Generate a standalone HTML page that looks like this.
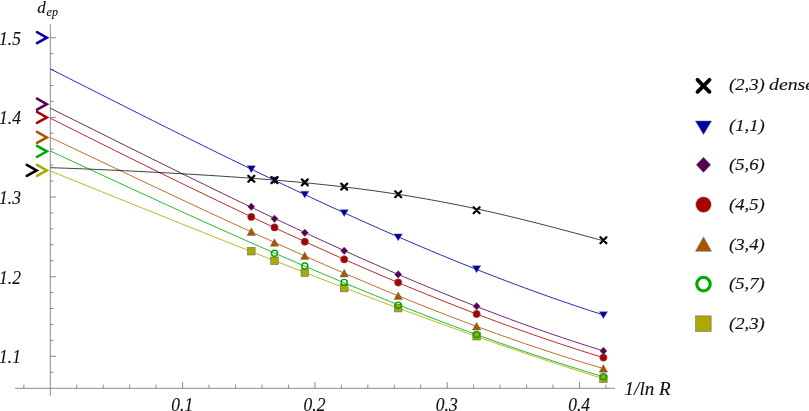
<!DOCTYPE html>
<html><head><meta charset="utf-8"><title>chart</title>
<style>html,body{margin:0;padding:0;background:#fff;}body{width:809px;height:411px;overflow:hidden;position:relative;font-family:"Liberation Serif",serif;}</style>
</head><body>
<svg width="809" height="411" viewBox="0 0 809 411" style="position:absolute;left:0;top:0">
<rect width="809" height="411" fill="#fff"/>
<g stroke="#8c8c8c" stroke-width="1" fill="none" shape-rendering="auto">
<line x1="15.1" y1="388.3" x2="615" y2="388.3"/>
<line x1="50.3" y1="24.3" x2="50.3" y2="395.6"/>
</g>
<g stroke="#6e6e6e" stroke-width="0.8" fill="none">
<line x1="23.84" y1="388.3" x2="23.84" y2="384.60"/>
<line x1="76.76" y1="388.3" x2="76.76" y2="384.60"/>
<line x1="103.22" y1="388.3" x2="103.22" y2="384.60"/>
<line x1="129.68" y1="388.3" x2="129.68" y2="384.60"/>
<line x1="156.14" y1="388.3" x2="156.14" y2="384.60"/>
<line x1="182.60" y1="388.3" x2="182.60" y2="382.10"/>
<line x1="209.06" y1="388.3" x2="209.06" y2="384.60"/>
<line x1="235.52" y1="388.3" x2="235.52" y2="384.60"/>
<line x1="261.98" y1="388.3" x2="261.98" y2="384.60"/>
<line x1="288.44" y1="388.3" x2="288.44" y2="384.60"/>
<line x1="314.90" y1="388.3" x2="314.90" y2="382.10"/>
<line x1="341.36" y1="388.3" x2="341.36" y2="384.60"/>
<line x1="367.82" y1="388.3" x2="367.82" y2="384.60"/>
<line x1="394.28" y1="388.3" x2="394.28" y2="384.60"/>
<line x1="420.74" y1="388.3" x2="420.74" y2="384.60"/>
<line x1="447.20" y1="388.3" x2="447.20" y2="382.10"/>
<line x1="473.66" y1="388.3" x2="473.66" y2="384.60"/>
<line x1="500.12" y1="388.3" x2="500.12" y2="384.60"/>
<line x1="526.58" y1="388.3" x2="526.58" y2="384.60"/>
<line x1="553.04" y1="388.3" x2="553.04" y2="384.60"/>
<line x1="579.50" y1="388.3" x2="579.50" y2="382.10"/>
<line x1="605.96" y1="388.3" x2="605.96" y2="384.60"/>
<line x1="50.3" y1="372.23" x2="53.60" y2="372.23"/>
<line x1="50.3" y1="356.30" x2="55.90" y2="356.30"/>
<line x1="50.3" y1="340.37" x2="53.60" y2="340.37"/>
<line x1="50.3" y1="324.44" x2="53.60" y2="324.44"/>
<line x1="50.3" y1="308.51" x2="53.60" y2="308.51"/>
<line x1="50.3" y1="292.58" x2="53.60" y2="292.58"/>
<line x1="50.3" y1="276.65" x2="55.90" y2="276.65"/>
<line x1="50.3" y1="260.72" x2="53.60" y2="260.72"/>
<line x1="50.3" y1="244.79" x2="53.60" y2="244.79"/>
<line x1="50.3" y1="228.86" x2="53.60" y2="228.86"/>
<line x1="50.3" y1="212.93" x2="53.60" y2="212.93"/>
<line x1="50.3" y1="197.00" x2="55.90" y2="197.00"/>
<line x1="50.3" y1="181.07" x2="53.60" y2="181.07"/>
<line x1="50.3" y1="165.14" x2="53.60" y2="165.14"/>
<line x1="50.3" y1="149.21" x2="53.60" y2="149.21"/>
<line x1="50.3" y1="133.28" x2="53.60" y2="133.28"/>
<line x1="50.3" y1="117.35" x2="55.90" y2="117.35"/>
<line x1="50.3" y1="101.42" x2="53.60" y2="101.42"/>
<line x1="50.3" y1="85.49" x2="53.60" y2="85.49"/>
<line x1="50.3" y1="69.56" x2="53.60" y2="69.56"/>
<line x1="50.3" y1="53.63" x2="53.60" y2="53.63"/>
<line x1="50.3" y1="37.70" x2="55.90" y2="37.70"/>
</g>
<path d="M50.30,171.00L54.95,172.87L59.60,174.74L64.24,176.61L68.89,178.48L73.54,180.35L78.19,182.22L82.84,184.10L87.48,185.97L92.13,187.84L96.78,189.72L101.43,191.59L106.07,193.46L110.72,195.34L115.37,197.21L120.02,199.08L124.67,200.96L129.31,202.83L133.96,204.70L138.61,206.57L143.26,208.44L147.91,210.31L152.55,212.18L157.20,214.05L161.85,215.92L166.50,217.78L171.15,219.65L175.79,221.51L180.44,223.38L185.09,225.24L189.74,227.10L194.38,228.96L199.03,230.82L203.68,232.67L208.33,234.53L212.98,236.38L217.62,238.23L222.27,240.08L226.92,241.93L231.57,243.78L236.22,245.62L240.86,247.46L245.51,249.30L250.16,251.14L254.81,252.98L259.46,254.81L264.10,256.64L268.75,258.47L273.40,260.29L278.05,262.11L282.69,263.93L287.34,265.75L291.99,267.56L296.64,269.37L301.29,271.18L305.93,272.99L310.58,274.79L315.23,276.59L319.88,278.38L324.53,280.17L329.17,281.96L333.82,283.75L338.47,285.53L343.12,287.30L347.77,289.08L352.41,290.85L357.06,292.61L361.71,294.38L366.36,296.13L371.01,297.89L375.65,299.64L380.30,301.38L384.95,303.12L389.60,304.86L394.24,306.59L398.89,308.32L403.54,310.04L408.19,311.76L412.84,313.47L417.48,315.18L422.13,316.88L426.78,318.58L431.43,320.28L436.08,321.97L440.72,323.65L445.37,325.33L450.02,327.00L454.67,328.67L459.32,330.33L463.96,331.99L468.61,333.64L473.26,335.28L477.91,336.92L482.55,338.55L487.20,340.18L491.85,341.80L496.50,343.42L501.15,345.03L505.79,346.63L510.44,348.23L515.09,349.82L519.74,351.40L524.39,352.98L529.03,354.55L533.68,356.11L538.33,357.67L542.98,359.22L547.63,360.77L552.27,362.30L556.92,363.83L561.57,365.36L566.22,366.87L570.86,368.38L575.51,369.88L580.16,371.38L584.81,372.86L589.46,374.34L594.10,375.81L598.75,377.28L603.40,378.73" fill="none" stroke="#aaaa00" stroke-width="0.85"/>
<path d="M50.30,151.00L54.95,153.16L59.60,155.32L64.24,157.48L68.89,159.65L73.54,161.81L78.19,163.97L82.84,166.12L87.48,168.28L92.13,170.44L96.78,172.59L101.43,174.75L106.07,176.90L110.72,179.05L115.37,181.20L120.02,183.35L124.67,185.49L129.31,187.64L133.96,189.78L138.61,191.92L143.26,194.06L147.91,196.19L152.55,198.33L157.20,200.46L161.85,202.59L166.50,204.71L171.15,206.83L175.79,208.95L180.44,211.07L185.09,213.18L189.74,215.29L194.38,217.40L199.03,219.50L203.68,221.60L208.33,223.69L212.98,225.78L217.62,227.87L222.27,229.95L226.92,232.03L231.57,234.11L236.22,236.18L240.86,238.25L245.51,240.31L250.16,242.36L254.81,244.42L259.46,246.46L264.10,248.50L268.75,250.54L273.40,252.57L278.05,254.60L282.69,256.62L287.34,258.63L291.99,260.64L296.64,262.65L301.29,264.64L305.93,266.64L310.58,268.62L315.23,270.60L319.88,272.57L324.53,274.54L329.17,276.50L333.82,278.45L338.47,280.40L343.12,282.34L347.77,284.27L352.41,286.20L357.06,288.12L361.71,290.03L366.36,291.93L371.01,293.83L375.65,295.72L380.30,297.60L384.95,299.47L389.60,301.34L394.24,303.19L398.89,305.04L403.54,306.88L408.19,308.72L412.84,310.54L417.48,312.36L422.13,314.16L426.78,315.96L431.43,317.75L436.08,319.53L440.72,321.30L445.37,323.06L450.02,324.81L454.67,326.56L459.32,328.29L463.96,330.01L468.61,331.73L473.26,333.43L477.91,335.12L482.55,336.81L487.20,338.48L491.85,340.14L496.50,341.80L501.15,343.44L505.79,345.07L510.44,346.69L515.09,348.30L519.74,349.90L524.39,351.49L529.03,353.06L533.68,354.63L538.33,356.18L542.98,357.73L547.63,359.26L552.27,360.78L556.92,362.28L561.57,363.78L566.22,365.26L570.86,366.74L575.51,368.19L580.16,369.64L584.81,371.08L589.46,372.50L594.10,373.91L598.75,375.30L603.40,376.69" fill="none" stroke="#00aa00" stroke-width="0.85"/>
<path d="M50.30,137.40L54.95,139.60L59.60,141.80L64.24,144.01L68.89,146.21L73.54,148.42L78.19,150.62L82.84,152.83L87.48,155.04L92.13,157.25L96.78,159.45L101.43,161.66L106.07,163.87L110.72,166.07L115.37,168.28L120.02,170.48L124.67,172.69L129.31,174.89L133.96,177.09L138.61,179.29L143.26,181.49L147.91,183.69L152.55,185.89L157.20,188.08L161.85,190.27L166.50,192.46L171.15,194.65L175.79,196.83L180.44,199.02L185.09,201.20L189.74,203.38L194.38,205.55L199.03,207.72L203.68,209.89L208.33,212.05L212.98,214.21L217.62,216.37L222.27,218.52L226.92,220.67L231.57,222.82L236.22,224.96L240.86,227.10L245.51,229.23L250.16,231.36L254.81,233.48L259.46,235.60L264.10,237.71L268.75,239.81L273.40,241.92L278.05,244.01L282.69,246.10L287.34,248.19L291.99,250.27L296.64,252.34L301.29,254.41L305.93,256.46L310.58,258.52L315.23,260.56L319.88,262.60L324.53,264.64L329.17,266.66L333.82,268.68L338.47,270.69L343.12,272.70L347.77,274.69L352.41,276.68L357.06,278.66L361.71,280.63L366.36,282.60L371.01,284.55L375.65,286.50L380.30,288.44L384.95,290.37L389.60,292.29L394.24,294.20L398.89,296.10L403.54,297.99L408.19,299.88L412.84,301.75L417.48,303.61L422.13,305.47L426.78,307.31L431.43,309.14L436.08,310.97L440.72,312.78L445.37,314.58L450.02,316.37L454.67,318.15L459.32,319.92L463.96,321.68L468.61,323.42L473.26,325.16L477.91,326.88L482.55,328.59L487.20,330.29L491.85,331.98L496.50,333.66L501.15,335.32L505.79,336.97L510.44,338.61L515.09,340.23L519.74,341.84L524.39,343.44L529.03,345.03L533.68,346.60L538.33,348.16L542.98,349.70L547.63,351.23L552.27,352.75L556.92,354.25L561.57,355.74L566.22,357.22L570.86,358.68L575.51,360.12L580.16,361.55L584.81,362.97L589.46,364.37L594.10,365.75L598.75,367.12L603.40,368.48" fill="none" stroke="#aa5500" stroke-width="0.85"/>
<path d="M50.30,118.20L54.95,120.53L59.60,122.86L64.24,125.18L68.89,127.51L73.54,129.84L78.19,132.16L82.84,134.48L87.48,136.80L92.13,139.13L96.78,141.44L101.43,143.76L106.07,146.08L110.72,148.39L115.37,150.70L120.02,153.01L124.67,155.31L129.31,157.62L133.96,159.92L138.61,162.22L143.26,164.51L147.91,166.80L152.55,169.09L157.20,171.38L161.85,173.66L166.50,175.94L171.15,178.22L175.79,180.49L180.44,182.76L185.09,185.02L189.74,187.28L194.38,189.54L199.03,191.79L203.68,194.04L208.33,196.28L212.98,198.52L217.62,200.75L222.27,202.98L226.92,205.21L231.57,207.42L236.22,209.64L240.86,211.85L245.51,214.05L250.16,216.24L254.81,218.44L259.46,220.62L264.10,222.80L268.75,224.97L273.40,227.14L278.05,229.30L282.69,231.46L287.34,233.60L291.99,235.74L296.64,237.88L301.29,240.00L305.93,242.12L310.58,244.24L315.23,246.34L319.88,248.44L324.53,250.53L329.17,252.61L333.82,254.69L338.47,256.76L343.12,258.82L347.77,260.87L352.41,262.91L357.06,264.94L361.71,266.97L366.36,268.99L371.01,271.00L375.65,273.00L380.30,274.99L384.95,276.97L389.60,278.94L394.24,280.90L398.89,282.86L403.54,284.80L408.19,286.73L412.84,288.66L417.48,290.57L422.13,292.48L426.78,294.37L431.43,296.25L436.08,298.13L440.72,299.99L445.37,301.84L450.02,303.68L454.67,305.51L459.32,307.33L463.96,309.14L468.61,310.94L473.26,312.72L477.91,314.50L482.55,316.26L487.20,318.01L491.85,319.75L496.50,321.48L501.15,323.19L505.79,324.89L510.44,326.58L515.09,328.26L519.74,329.92L524.39,331.58L529.03,333.22L533.68,334.84L538.33,336.46L542.98,338.06L547.63,339.64L552.27,341.22L556.92,342.77L561.57,344.32L566.22,345.85L570.86,347.37L575.51,348.87L580.16,350.36L584.81,351.84L589.46,353.30L594.10,354.75L598.75,356.18L603.40,357.60" fill="none" stroke="#aa0000" stroke-width="0.85"/>
<path d="M50.30,108.20L54.95,110.51L59.60,112.82L64.24,115.13L68.89,117.44L73.54,119.75L78.19,122.07L82.84,124.38L87.48,126.70L92.13,129.01L96.78,131.33L101.43,133.64L106.07,135.96L110.72,138.27L115.37,140.58L120.02,142.90L124.67,145.21L129.31,147.52L133.96,149.83L138.61,152.13L143.26,154.44L147.91,156.75L152.55,159.05L157.20,161.35L161.85,163.65L166.50,165.95L171.15,168.24L175.79,170.53L180.44,172.82L185.09,175.11L189.74,177.39L194.38,179.67L199.03,181.95L203.68,184.22L208.33,186.49L212.98,188.76L217.62,191.02L222.27,193.28L226.92,195.53L231.57,197.78L236.22,200.03L240.86,202.27L245.51,204.51L250.16,206.74L254.81,208.96L259.46,211.19L264.10,213.40L268.75,215.61L273.40,217.82L278.05,220.02L282.69,222.21L287.34,224.40L291.99,226.58L296.64,228.75L301.29,230.92L305.93,233.08L310.58,235.24L315.23,237.38L319.88,239.52L324.53,241.66L329.17,243.78L333.82,245.90L338.47,248.01L343.12,250.12L347.77,252.21L352.41,254.30L357.06,256.38L361.71,258.45L366.36,260.51L371.01,262.56L375.65,264.60L380.30,266.64L384.95,268.66L389.60,270.68L394.24,272.69L398.89,274.69L403.54,276.67L408.19,278.65L412.84,280.62L417.48,282.58L422.13,284.52L426.78,286.46L431.43,288.39L436.08,290.30L440.72,292.21L445.37,294.10L450.02,295.98L454.67,297.85L459.32,299.71L463.96,301.56L468.61,303.40L473.26,305.22L477.91,307.03L482.55,308.83L487.20,310.62L491.85,312.39L496.50,314.16L501.15,315.90L505.79,317.64L510.44,319.36L515.09,321.07L519.74,322.77L524.39,324.45L529.03,326.12L533.68,327.78L538.33,329.42L542.98,331.04L547.63,332.66L552.27,334.26L556.92,335.84L561.57,337.41L566.22,338.96L570.86,340.50L575.51,342.02L580.16,343.53L584.81,345.03L589.46,346.50L594.10,347.97L598.75,349.41L603.40,350.84" fill="none" stroke="#550055" stroke-width="0.85"/>
<path d="M50.30,68.90L54.95,71.25L59.60,73.60L64.24,75.95L68.89,78.30L73.54,80.65L78.19,83.00L82.84,85.35L87.48,87.69L92.13,90.04L96.78,92.39L101.43,94.74L106.07,97.08L110.72,99.43L115.37,101.77L120.02,104.11L124.67,106.45L129.31,108.79L133.96,111.13L138.61,113.46L143.26,115.80L147.91,118.13L152.55,120.46L157.20,122.78L161.85,125.11L166.50,127.43L171.15,129.74L175.79,132.06L180.44,134.37L185.09,136.68L189.74,138.99L194.38,141.29L199.03,143.59L203.68,145.88L208.33,148.17L212.98,150.46L217.62,152.74L222.27,155.02L226.92,157.29L231.57,159.56L236.22,161.83L240.86,164.09L245.51,166.34L250.16,168.59L254.81,170.84L259.46,173.08L264.10,175.31L268.75,177.54L273.40,179.76L278.05,181.98L282.69,184.19L287.34,186.40L291.99,188.60L296.64,190.79L301.29,192.97L305.93,195.15L310.58,197.33L315.23,199.49L319.88,201.65L324.53,203.80L329.17,205.95L333.82,208.08L338.47,210.21L343.12,212.34L347.77,214.45L352.41,216.56L357.06,218.66L361.71,220.75L366.36,222.83L371.01,224.90L375.65,226.96L380.30,229.02L384.95,231.07L389.60,233.11L394.24,235.14L398.89,237.16L403.54,239.17L408.19,241.17L412.84,243.16L417.48,245.14L422.13,247.11L426.78,249.07L431.43,251.03L436.08,252.97L440.72,254.90L445.37,256.82L450.02,258.73L454.67,260.63L459.32,262.52L463.96,264.40L468.61,266.26L473.26,268.12L477.91,269.96L482.55,271.79L487.20,273.61L491.85,275.42L496.50,277.22L501.15,279.00L505.79,280.77L510.44,282.53L515.09,284.28L519.74,286.01L524.39,287.74L529.03,289.45L533.68,291.14L538.33,292.82L542.98,294.49L547.63,296.15L552.27,297.79L556.92,299.42L561.57,301.04L566.22,302.64L570.86,304.23L575.51,305.80L580.16,307.36L584.81,308.90L589.46,310.43L594.10,311.95L598.75,313.45L603.40,314.93" fill="none" stroke="#0000aa" stroke-width="0.85"/>
<path d="M50.30,167.70L54.95,167.84L59.60,167.99L64.24,168.15L68.89,168.32L73.54,168.49L78.19,168.67L82.84,168.85L87.48,169.04L92.13,169.24L96.78,169.44L101.43,169.64L106.07,169.85L110.72,170.06L115.37,170.28L120.02,170.50L124.67,170.73L129.31,170.95L133.96,171.18L138.61,171.42L143.26,171.66L147.91,171.90L152.55,172.14L157.20,172.39L161.85,172.64L166.50,172.89L171.15,173.15L175.79,173.41L180.44,173.68L185.09,173.94L189.74,174.21L194.38,174.49L199.03,174.77L203.68,175.05L208.33,175.34L212.98,175.63L217.62,175.93L222.27,176.23L226.92,176.54L231.57,176.85L236.22,177.17L240.86,177.50L245.51,177.83L250.16,178.17L254.81,178.52L259.46,178.87L264.10,179.23L268.75,179.60L273.40,179.97L278.05,180.36L282.69,180.75L287.34,181.16L291.99,181.57L296.64,181.99L301.29,182.43L305.93,182.87L310.58,183.33L315.23,183.79L319.88,184.27L324.53,184.76L329.17,185.26L333.82,185.77L338.47,186.30L343.12,186.84L347.77,187.39L352.41,187.96L357.06,188.54L361.71,189.13L366.36,189.74L371.01,190.37L375.65,191.01L380.30,191.66L384.95,192.33L389.60,193.02L394.24,193.72L398.89,194.43L403.54,195.17L408.19,195.92L412.84,196.68L417.48,197.46L422.13,198.26L426.78,199.08L431.43,199.91L436.08,200.76L440.72,201.63L445.37,202.51L450.02,203.41L454.67,204.33L459.32,205.26L463.96,206.21L468.61,207.17L473.26,208.16L477.91,209.15L482.55,210.17L487.20,211.20L491.85,212.25L496.50,213.31L501.15,214.38L505.79,215.47L510.44,216.58L515.09,217.70L519.74,218.83L524.39,219.97L529.03,221.13L533.68,222.30L538.33,223.48L542.98,224.67L547.63,225.87L552.27,227.08L556.92,228.30L561.57,229.52L566.22,230.76L570.86,232.00L575.51,233.24L580.16,234.49L584.81,235.75L589.46,237.00L594.10,238.26L598.75,239.52L603.40,240.78" fill="none" stroke="#000000" stroke-width="0.75"/>
<rect x="247.50" y="247.40" width="7.60" height="7.60" fill="#aaaa00" stroke="#6a6a6a" stroke-width="0.6"/>
<rect x="270.70" y="257.00" width="7.60" height="7.60" fill="#aaaa00" stroke="#6a6a6a" stroke-width="0.6"/>
<rect x="301.00" y="268.90" width="7.60" height="7.60" fill="#aaaa00" stroke="#6a6a6a" stroke-width="0.6"/>
<rect x="340.40" y="284.20" width="7.60" height="7.60" fill="#aaaa00" stroke="#6a6a6a" stroke-width="0.6"/>
<rect x="394.40" y="304.30" width="7.60" height="7.60" fill="#aaaa00" stroke="#6a6a6a" stroke-width="0.6"/>
<rect x="472.80" y="332.40" width="7.60" height="7.60" fill="#aaaa00" stroke="#6a6a6a" stroke-width="0.6"/>
<rect x="599.60" y="375.00" width="7.60" height="7.60" fill="#aaaa00" stroke="#6a6a6a" stroke-width="0.6"/>
<circle cx="274.50" cy="253.20" r="3.05" fill="none" stroke="#00aa00" stroke-width="1.45"/>
<circle cx="304.80" cy="266.10" r="3.05" fill="none" stroke="#00aa00" stroke-width="1.45"/>
<circle cx="344.20" cy="282.40" r="3.05" fill="none" stroke="#00aa00" stroke-width="1.45"/>
<circle cx="398.20" cy="305.20" r="3.05" fill="none" stroke="#00aa00" stroke-width="1.45"/>
<circle cx="476.60" cy="334.50" r="3.05" fill="none" stroke="#00aa00" stroke-width="1.45"/>
<circle cx="603.40" cy="376.70" r="3.05" fill="none" stroke="#00aa00" stroke-width="1.45"/>
<path d="M247.10,235.40L255.50,235.40L251.30,227.80Z" fill="#aa5500" stroke="#6a6a6a" stroke-width="0.5"/>
<path d="M270.30,246.30L278.70,246.30L274.50,238.70Z" fill="#aa5500" stroke="#6a6a6a" stroke-width="0.5"/>
<path d="M300.60,259.60L309.00,259.60L304.80,252.00Z" fill="#aa5500" stroke="#6a6a6a" stroke-width="0.5"/>
<path d="M340.00,276.90L348.40,276.90L344.20,269.30Z" fill="#aa5500" stroke="#6a6a6a" stroke-width="0.5"/>
<path d="M394.00,299.60L402.40,299.60L398.20,292.00Z" fill="#aa5500" stroke="#6a6a6a" stroke-width="0.5"/>
<path d="M472.40,330.00L480.80,330.00L476.60,322.40Z" fill="#aa5500" stroke="#6a6a6a" stroke-width="0.5"/>
<path d="M599.20,372.20L607.60,372.20L603.40,364.60Z" fill="#aa5500" stroke="#6a6a6a" stroke-width="0.5"/>
<circle cx="251.30" cy="216.90" r="3.65" fill="#aa0000" stroke="#6a6a6a" stroke-width="0.6"/>
<circle cx="274.50" cy="227.40" r="3.65" fill="#aa0000" stroke="#6a6a6a" stroke-width="0.6"/>
<circle cx="304.80" cy="241.70" r="3.65" fill="#aa0000" stroke="#6a6a6a" stroke-width="0.6"/>
<circle cx="344.20" cy="259.40" r="3.65" fill="#aa0000" stroke="#6a6a6a" stroke-width="0.6"/>
<circle cx="398.20" cy="282.50" r="3.65" fill="#aa0000" stroke="#6a6a6a" stroke-width="0.6"/>
<circle cx="476.60" cy="314.00" r="3.65" fill="#aa0000" stroke="#6a6a6a" stroke-width="0.6"/>
<circle cx="603.40" cy="357.60" r="3.65" fill="#aa0000" stroke="#6a6a6a" stroke-width="0.6"/>
<path d="M251.30,202.90L254.90,206.70L251.30,210.50L247.70,206.70Z" fill="#550055" stroke="#6a6a6a" stroke-width="0.5"/>
<path d="M274.50,214.90L278.10,218.70L274.50,222.50L270.90,218.70Z" fill="#550055" stroke="#6a6a6a" stroke-width="0.5"/>
<path d="M304.80,228.90L308.40,232.70L304.80,236.50L301.20,232.70Z" fill="#550055" stroke="#6a6a6a" stroke-width="0.5"/>
<path d="M344.20,247.00L347.80,250.80L344.20,254.60L340.60,250.80Z" fill="#550055" stroke="#6a6a6a" stroke-width="0.5"/>
<path d="M398.20,270.60L401.80,274.40L398.20,278.20L394.60,274.40Z" fill="#550055" stroke="#6a6a6a" stroke-width="0.5"/>
<path d="M476.60,302.50L480.20,306.30L476.60,310.10L473.00,306.30Z" fill="#550055" stroke="#6a6a6a" stroke-width="0.5"/>
<path d="M603.40,347.10L607.00,350.90L603.40,354.70L599.80,350.90Z" fill="#550055" stroke="#6a6a6a" stroke-width="0.5"/>
<path d="M247.20,165.80L255.40,165.80L251.30,172.70Z" fill="#0000aa" stroke="#6a6a6a" stroke-width="0.5"/>
<path d="M270.40,176.90L278.60,176.90L274.50,183.80Z" fill="#0000aa" stroke="#6a6a6a" stroke-width="0.5"/>
<path d="M300.70,191.20L308.90,191.20L304.80,198.10Z" fill="#0000aa" stroke="#6a6a6a" stroke-width="0.5"/>
<path d="M340.10,209.70L348.30,209.70L344.20,216.60Z" fill="#0000aa" stroke="#6a6a6a" stroke-width="0.5"/>
<path d="M394.10,233.90L402.30,233.90L398.20,240.80Z" fill="#0000aa" stroke="#6a6a6a" stroke-width="0.5"/>
<path d="M472.50,265.80L480.70,265.80L476.60,272.70Z" fill="#0000aa" stroke="#6a6a6a" stroke-width="0.5"/>
<path d="M599.30,311.70L607.50,311.70L603.40,318.60Z" fill="#0000aa" stroke="#6a6a6a" stroke-width="0.5"/>
<path d="M248.30,175.70L254.30,181.70M248.30,181.70L254.30,175.70" stroke="#000000" stroke-width="2.25" stroke-linecap="round" fill="none"/>
<path d="M271.50,177.10L277.50,183.10M271.50,183.10L277.50,177.10" stroke="#000000" stroke-width="2.25" stroke-linecap="round" fill="none"/>
<path d="M301.80,179.40L307.80,185.40M301.80,185.40L307.80,179.40" stroke="#000000" stroke-width="2.25" stroke-linecap="round" fill="none"/>
<path d="M341.20,183.60L347.20,189.60M341.20,189.60L347.20,183.60" stroke="#000000" stroke-width="2.25" stroke-linecap="round" fill="none"/>
<path d="M395.20,191.20L401.20,197.20M395.20,197.20L401.20,191.20" stroke="#000000" stroke-width="2.25" stroke-linecap="round" fill="none"/>
<path d="M473.60,207.20L479.60,213.20M473.60,213.20L479.60,207.20" stroke="#000000" stroke-width="2.25" stroke-linecap="round" fill="none"/>
<path d="M600.40,237.30L606.40,243.30M600.40,243.30L606.40,237.30" stroke="#000000" stroke-width="2.25" stroke-linecap="round" fill="none"/>
<path d="M37.00,32.20L46.80,37.70L37.00,43.20" fill="none" stroke="#0000aa" stroke-width="2.6" stroke-linecap="round" stroke-linejoin="miter"/>
<path d="M37.00,98.70L46.80,104.20L37.00,109.70" fill="none" stroke="#550055" stroke-width="2.6" stroke-linecap="round" stroke-linejoin="miter"/>
<path d="M37.00,111.90L46.80,117.40L37.00,122.90" fill="none" stroke="#aa0000" stroke-width="2.6" stroke-linecap="round" stroke-linejoin="miter"/>
<path d="M37.00,131.90L46.80,137.40L37.00,142.90" fill="none" stroke="#aa5500" stroke-width="2.6" stroke-linecap="round" stroke-linejoin="miter"/>
<path d="M37.00,145.80L46.80,151.30L37.00,156.80" fill="none" stroke="#00aa00" stroke-width="2.6" stroke-linecap="round" stroke-linejoin="miter"/>
<path d="M26.80,164.90L36.60,170.40L26.80,175.90" fill="none" stroke="#000" stroke-width="2.6" stroke-linecap="round" stroke-linejoin="miter"/>
<path d="M37.00,164.90L46.80,170.40L37.00,175.90" fill="none" stroke="#aaaa00" stroke-width="2.6" stroke-linecap="round" stroke-linejoin="miter"/>
<path d="M697.50,79.80L709.50,91.80M697.50,91.80L709.50,79.80" stroke="#000" stroke-width="3.8" stroke-linecap="round" fill="none"/>
<path d="M695.42,121.00L711.58,121.00L703.50,134.59Z" fill="#0000aa" stroke="#6a6a6a" stroke-width="0.5"/>
<path d="M703.50,157.20L710.70,164.80L703.50,172.40L696.30,164.80Z" fill="#550055" stroke="#6a6a6a" stroke-width="0.5"/>
<circle cx="703.50" cy="204.60" r="7.67" fill="#aa0000" stroke="#6a6a6a" stroke-width="0.6"/>
<path d="M695.52,251.33L711.48,251.33L703.50,236.89Z" fill="#aa5500" stroke="#6a6a6a" stroke-width="0.5"/>
<circle cx="703.50" cy="284.10" r="6.71" fill="none" stroke="#00aa00" stroke-width="3.19"/>
<rect x="695.69" y="315.89" width="15.43" height="15.43" fill="#aaaa00" stroke="#6a6a6a" stroke-width="0.6"/>
<g font-family="Liberation Serif, serif" font-style="italic" fill="#111" stroke="#111" stroke-width="0.12" opacity="0.999">
<text transform="translate(20.90,363.20) scale(1.03,1.06)" font-size="17px" text-anchor="end">1.1</text>
<text transform="translate(20.90,283.55) scale(1.03,1.06)" font-size="17px" text-anchor="end">1.2</text>
<text transform="translate(20.90,203.90) scale(1.03,1.06)" font-size="17px" text-anchor="end">1.3</text>
<text transform="translate(20.90,124.25) scale(1.03,1.06)" font-size="17px" text-anchor="end">1.4</text>
<text transform="translate(20.90,44.60) scale(1.03,1.06)" font-size="17px" text-anchor="end">1.5</text>
<text transform="translate(182.20,410.60) scale(1.03,1.1)" font-size="17px" text-anchor="middle">0.1</text>
<text transform="translate(314.50,410.60) scale(1.03,1.1)" font-size="17px" text-anchor="middle">0.2</text>
<text transform="translate(446.80,410.60) scale(1.03,1.1)" font-size="17px" text-anchor="middle">0.3</text>
<text transform="translate(579.10,410.60) scale(1.03,1.1)" font-size="17px" text-anchor="middle">0.4</text>
<text transform="translate(624.60,395.00) scale(1.12,1.17)" font-size="17px" text-anchor="start">1/ln R</text>
<text x="37.2" y="13" font-size="17px">d<tspan font-size="12px" dx="0.9" dy="2.6">ep</tspan></text>
<text transform="translate(728.90,89.80) scale(1.17,1.06)" font-size="16px" text-anchor="start">(2,3)</text>
<text transform="translate(769.00,89.80) scale(1.24,1.06)" font-size="16px" text-anchor="start">dense</text>
<text transform="translate(728.90,130.60) scale(1.17,1.06)" font-size="16px" text-anchor="start">(1,1)</text>
<text transform="translate(728.90,169.90) scale(1.17,1.06)" font-size="16px" text-anchor="start">(5,6)</text>
<text transform="translate(728.90,209.70) scale(1.17,1.06)" font-size="16px" text-anchor="start">(4,5)</text>
<text transform="translate(728.90,249.50) scale(1.17,1.06)" font-size="16px" text-anchor="start">(3,4)</text>
<text transform="translate(728.90,289.30) scale(1.17,1.06)" font-size="16px" text-anchor="start">(5,7)</text>
<text transform="translate(728.90,329.10) scale(1.17,1.06)" font-size="16px" text-anchor="start">(2,3)</text>
</g>
</svg>
</body></html>
